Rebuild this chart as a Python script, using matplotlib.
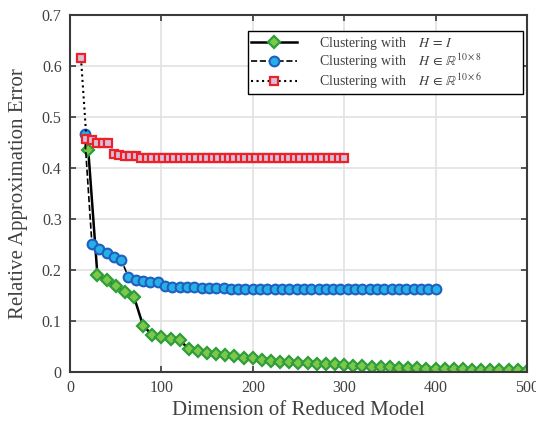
import matplotlib
matplotlib.use("Agg")
import matplotlib.pyplot as plt

plt.rcParams["font.family"] = ["Liberation Serif", "DejaVu Serif"]
plt.rcParams["mathtext.fontset"] = "stix"

# reduced model dimensions: 2..50 clusters times columns of H
clusters = list(range(2, 51))
dims_identity = [k * 10 for k in clusters]
dims_h8 = [k * 8 for k in clusters]
dims_h6 = [k * 6 for k in clusters]

err_identity = [
    0.435, 0.190, 0.1795, 0.169, 0.157, 0.1475, 0.0907, 0.073, 0.0685, 0.0647,
    0.062, 0.0457, 0.0404, 0.037, 0.035, 0.0326, 0.0306, 0.028,
    0.0267, 0.0227, 0.0215, 0.020, 0.0188, 0.0176, 0.017, 0.0163, 0.0157, 0.015,
    0.0143, 0.0124, 0.011, 0.0095, 0.0095, 0.009, 0.008, 0.0075, 0.007, 0.0065,
    0.006, 0.0056, 0.0053, 0.005, 0.0047, 0.0043, 0.004, 0.0037, 0.0033, 0.003,
    0.0027,
]
err_h8 = [
    0.466, 0.251, 0.242, 0.234, 0.2265, 0.220, 0.186, 0.180, 0.1775, 0.1763,
    0.1756, 0.169, 0.1665, 0.1665, 0.1665, 0.1665, 0.165, 0.165, 0.1645, 0.164,
    0.1635, 0.1632, 0.163, 0.163, 0.163, 0.163, 0.163, 0.163, 0.163, 0.163,
    0.163, 0.163, 0.163, 0.163, 0.163, 0.163, 0.163, 0.163, 0.163, 0.163,
    0.163, 0.163, 0.163, 0.163, 0.163, 0.163, 0.163, 0.163, 0.163,
]
err_h6 = [
    0.616, 0.457, 0.454, 0.449, 0.449, 0.449, 0.428, 0.426, 0.424, 0.424,
    0.423, 0.4205, 0.419, 0.419, 0.419, 0.419, 0.419, 0.419, 0.419, 0.419,
    0.419, 0.419, 0.419, 0.419, 0.419, 0.419, 0.419, 0.419, 0.419, 0.419,
    0.419, 0.419, 0.419, 0.419, 0.419, 0.419, 0.419, 0.419, 0.419, 0.419,
    0.419, 0.419, 0.419, 0.419, 0.419, 0.419, 0.419, 0.419, 0.419,
]

labels = [
    r"Clustering with    $H\,=\,I$",
    r"Clustering with    $H\,\in\,\mathbb{R}^{10\times 8}$",
    r"Clustering with    $H\,\in\,\mathbb{R}^{10\times 6}$",
]

text_color = "#404040"

fig = plt.figure(figsize=(5.36, 4.24), dpi=100)
ax = fig.add_axes([0.1306, 0.1226, 0.8524, 0.842])

ax.plot(dims_identity, err_identity, "-", color="black", lw=1.8,
        marker="D", ms=6.2, mfc="#7cc84a", mec="#2f9e3a", mew=1.6,
        label=labels[0])
ax.plot(dims_h8, err_h8, "--", color="black", lw=1.2,
        marker="o", ms=7, mfc="#27b0e6", mec="#1f5fc0", mew=1.5,
        label=labels[1])
ax.plot(dims_h6, err_h6, ":", color="black", lw=1.5,
        marker="s", ms=6, mfc="#d6bfdc", mec="#ec2229", mew=1.6,
        label=labels[2])

ax.set_xlim(0, 500)
ax.set_ylim(0, 0.7)
ax.set_xticks([0, 100, 200, 300, 400, 500])
ax.set_yticks([0, 0.1, 0.2, 0.3, 0.4, 0.5, 0.6, 0.7])
ax.set_yticklabels(["0", "0.1", "0.2", "0.3", "0.4", "0.5", "0.6", "0.7"])

ax.grid(True, color="#e2e2e2", lw=1.2)
ax.set_axisbelow(True)
for s in ax.spines.values():
    s.set_color("#3a3a3a")
    s.set_linewidth(1.5)
ax.tick_params(direction="in", top=True, right=True, length=4, width=1.2,
               color="#3a3a3a", labelsize=11.5, labelcolor=text_color, pad=6)

ax.set_xlabel("Dimension of Reduced Model", fontsize=15, color=text_color, labelpad=3)
ax.set_ylabel("Relative Approximation Error", fontsize=15, color=text_color, labelpad=10)

leg = ax.legend(loc="upper left", mode="expand", fontsize=10, frameon=True,
                fancybox=False, edgecolor="black", framealpha=1,
                handlelength=3.3, handletextpad=1.6, borderpad=0.25,
                labelspacing=0.0, borderaxespad=0,
                bbox_to_anchor=(0.3895, 0.798, 0.6017, 0.157))
leg.get_frame().set_linewidth(1.0)
for t in leg.get_texts():
    t.set_color(text_color)

fig.savefig("out.png", dpi=100)
